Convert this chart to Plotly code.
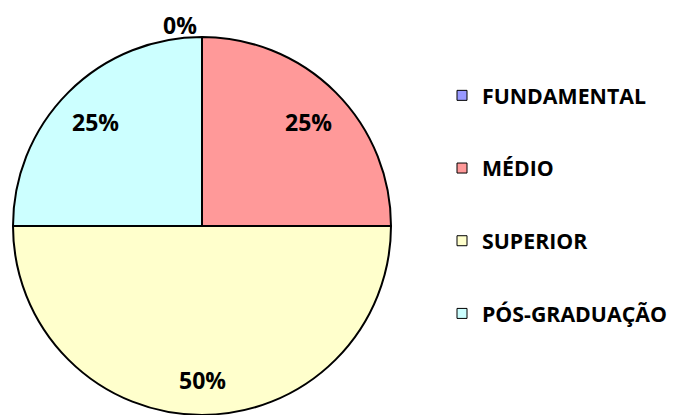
import math
import plotly.graph_objects as go

categories = ["FUNDAMENTAL", "MÉDIO", "SUPERIOR", "PÓS-GRADUAÇÃO"]
values = [0, 25, 50, 25]
colors = ["#9999FF", "#FF9999", "#FFFFCC", "#CCFFFF"]

W, H = 700, 415
FONT = "Open Sans"

# pie geometry (figure pixels; page body adds an 8px margin)
CX, CY, R = 194, 218, 189

fig = go.Figure()
fig.add_trace(go.Pie(
    labels=categories,
    values=values,
    sort=False,
    direction="clockwise",
    rotation=0,
    marker=dict(colors=colors, line=dict(color="black", width=2)),
    textinfo="none",
    showlegend=False,
    hoverinfo="label+percent",
    domain=dict(x=[(CX - R) / W, (CX + R) / W], y=[(H - CY - R) / H, (H - CY + R) / H]),
))

# data labels placed at each slice's mid-angle
total = sum(values)
cum = 0
for v in values:
    frac = v / total
    mid = (cum + frac / 2) * 2 * math.pi
    cum += frac
    if v > 0:
        rf, xs, ys = 0.8, 0, -3
    else:
        rf, xs, ys = 1.0, -22, 12
    px = CX + rf * R * math.sin(mid)
    py = CY - rf * R * math.cos(mid)
    fig.add_annotation(
        x=px / W, y=1 - py / H, xref="paper", yref="paper",
        text=f"{frac:.0%}", showarrow=False, xshift=xs, yshift=ys,
        xanchor="center", yanchor="middle",
        font=dict(family=FONT, size=23, color="black", weight="bold"),
    )

for name, col in zip(categories, colors):
    fig.add_trace(go.Scatter(
        x=[None], y=[None], mode="markers", name=name,
        marker=dict(symbol="square", size=10, color=col, line=dict(color="black", width=1)),
        legendgroup=name, showlegend=True,
    ))

fig.update_layout(
    width=W, height=H,
    margin=dict(l=0, r=0, t=0, b=0, autoexpand=False),
    paper_bgcolor="white", plot_bgcolor="white",
    xaxis=dict(visible=False), yaxis=dict(visible=False),
    legend=dict(
        x=434 / W, xanchor="left", y=1 - 67 / H, yanchor="top",
        font=dict(family=FONT, size=21.3, color="black", weight="bold"),
        tracegroupgap=42, itemclick=False, itemdoubleclick=False,
        bgcolor="rgba(0,0,0,0)",
    ),
)

fig.write_html("out.html")
